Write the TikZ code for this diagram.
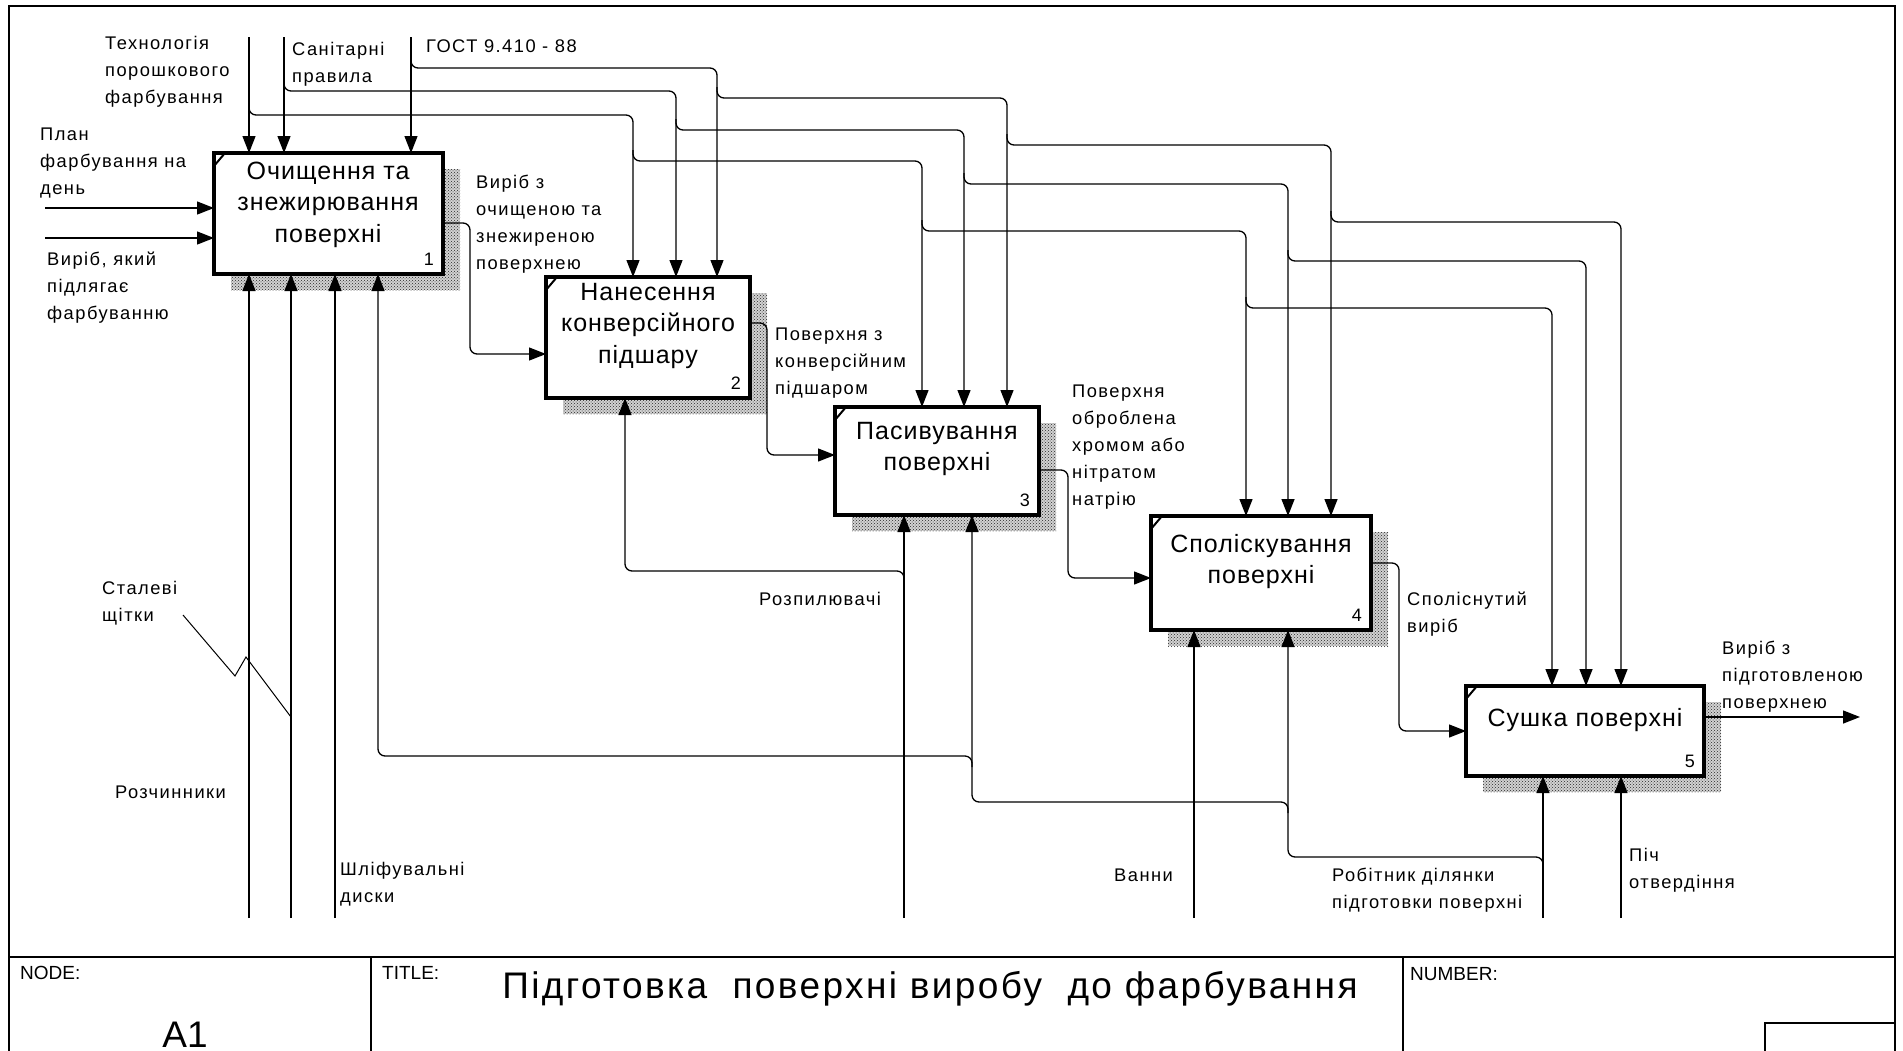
\documentclass[tikz,border=0pt]{standalone}
\usepackage{fontspec}
\setmainfont{Liberation Sans}
\newfontfamily\labf[LetterSpace=8]{Liberation Sans}
\newfontfamily\boxf[LetterSpace=4]{Liberation Sans}
\newfontfamily\ttlf[LetterSpace=6.5]{Liberation Sans}
\usetikzlibrary{arrows.meta,patterns,calc}
\pgfdeclarelayer{bg}
\pgfsetlayers{bg,main}
\newcommand{\ml}[1]{\begin{tabular}[t]{@{}l@{}}#1\end{tabular}}
\newcommand{\mc}[1]{\begin{tabular}[t]{@{}c@{}}#1\end{tabular}}
\tikzset{
  arr/.style={line width=1.3pt,-{Triangle[length=17pt,width=13pt]}},
  ln/.style={line width=1.3pt},
  rc/.style={rounded corners=7pt},
  box/.style={draw,line width=3.3pt,fill=white,anchor=north west,inner sep=0pt,outer sep=0pt},
  lab/.style={anchor=base west,inner sep=0pt,font=\fontsize{18.3}{27}\selectfont\labf},
  btxt/.style={anchor=base,inner sep=0pt,font=\fontsize{25}{31.5}\selectfont\boxf},
  num/.style={anchor=base east,inner sep=0pt,font=\fontsize{18}{20}\selectfont},
  frm/.style={line width=2pt},
  hdr/.style={anchor=base west,inner sep=0pt,font=\fontsize{19}{22}\selectfont}
}
\begin{document}
\begin{tikzpicture}[x=1pt,y=-1pt]
\useasboundingbox (0,0) rectangle (1903,1050);
% frame
\draw[frm] (9,1052) -- (9,6) -- (1895,6) -- (1895,1052);
\draw[frm] (9,957) -- (1895,957);
\draw[frm] (371,957) -- (371,1052);
\draw[frm] (1403,957) -- (1403,1052);
\draw[frm] (1765,1052) -- (1765,1023) -- (1895,1023);
\node[hdr] (hnode) at (20,979) {NODE:};
\node[hdr] (htitle) at (382,979) {TITLE:};
\node[hdr] (hnum) at (1410,980) {NUMBER:};
\node[anchor=base,inner sep=0pt,font=\fontsize{37}{40}\selectfont] (a1) at (185,1047) {A1};
\node[anchor=base,inner sep=0pt,font=\fontsize{37}{40}\selectfont\ttlf] (ttl) at (930,998) {Підготовка\ \ поверхні виробу\ \ до фарбування};

% boxes
\node[box,minimum width=229pt,minimum height=121pt] (b1) at (214,153) {};
\node[box,minimum width=204pt,minimum height=121pt] (b2) at (546,277) {};
\node[box,minimum width=204pt,minimum height=108pt] (b3) at (835,407) {};
\node[box,minimum width=220pt,minimum height=114pt] (b4) at (1151,516) {};
\node[box,minimum width=238pt,minimum height=90pt] (b5) at (1466,686) {};
\begin{pgfonlayer}{bg}
\foreach \b in {b1,b2,b3,b4,b5}{
  \fill[gray!35] ($(\b.north west)+(17,16)$) rectangle ($(\b.south east)+(17,16)$);
  \fill[pattern=crosshatch dots,pattern color=black!85] ($(\b.north west)+(17,16)$) rectangle ($(\b.south east)+(17,16)$);
}
\end{pgfonlayer}
\foreach \b/\n in {b1/1,b2/2,b3/3,b4/4,b5/5}{
  \draw[line width=2pt] ($(\b.north west)+(0,13)$) -- ($(\b.north west)+(11,0)$);
  \node[num] (n\n) at ($(\b.south east)+(-9,-9)$) {\n};
}
\node[btxt] (t1) at (328,179) {\mc{Очищення та\\знежирювання\\поверхні}};
\node[btxt] (t2) at (648,300) {\mc{Нанесення\\конверсійного\\підшару}};
\node[btxt] (t3) at (937,439) {\mc{Пасивування\\поверхні}};
\node[btxt] (t4) at (1261,552) {\mc{Споліскування\\поверхні}};
\node[btxt] (t5) at (1585,726) {Сушка поверхні};

% controls
\coordinate (cT) at (249,37);
\coordinate (cS) at (284,37);
\coordinate (cG) at (411,37);
\draw[arr] (cT) -- (cT |- b1.north);
\draw[arr] (cS) -- (cS |- b1.north);
\draw[arr] (cG) -- (cG |- b1.north);
% technology branches
\draw[arr,rc] (249,104) -- (249,115) -- (633,115) -- (b2.north -| 633,0);
\draw[arr,rc] (633,150) -- (633,161) -- (922,161) -- (b3.north -| 922,0);
\draw[arr,rc] (922,220) -- (922,231) -- (1246,231) -- (b4.north -| 1246,0);
\draw[arr,rc] (1246,297) -- (1246,308) -- (1552,308) -- (b5.north -| 1552,0);
% sanitary branches
\draw[arr,rc] (284,80) -- (284,91) -- (676,91) -- (b2.north -| 676,0);
\draw[arr,rc] (676,119) -- (676,130) -- (964,130) -- (b3.north -| 964,0);
\draw[arr,rc] (964,173) -- (964,184) -- (1288,184) -- (b4.north -| 1288,0);
\draw[arr,rc] (1288,250) -- (1288,261) -- (1586,261) -- (b5.north -| 1586,0);
% GOST branches
\draw[arr,rc] (411,57) -- (411,68) -- (717,68) -- (b2.north -| 717,0);
\draw[arr,rc] (717,87) -- (717,98) -- (1007,98) -- (b3.north -| 1007,0);
\draw[arr,rc] (1007,134) -- (1007,145) -- (1331,145) -- (b4.north -| 1331,0);
\draw[arr,rc] (1331,211) -- (1331,222) -- (1621,222) -- (b5.north -| 1621,0);

% inputs
\coordinate (iPlan) at (45,208);
\coordinate (iVir) at (45,238);
\draw[arr] (iPlan) -- (iPlan -| b1.west);
\draw[arr] (iVir) -- (iVir -| b1.west);
% flows between boxes
\draw[arr,rc] (b1.east |- 0,223) -- (470,223) -- (470,354) -- (b2.west |- 0,354);
\draw[arr,rc] (b2.east |- 0,323) -- (767,323) -- (767,455) -- (b3.west |- 0,455);
\draw[arr,rc] (b3.east |- 0,470) -- (1068,470) -- (1068,578) -- (b4.west |- 0,578);
\draw[arr,rc] (b4.east |- 0,563) -- (1399,563) -- (1399,731) -- (b5.west |- 0,731);
\coordinate (oEnd) at (1860,717);
\draw[arr] (b5.east |- oEnd) -- (oEnd);

% mechanisms
\coordinate (mR) at (249,918);
\coordinate (mS) at (291,918);
\coordinate (mD) at (335,918);
\coordinate (mP) at (904,918);
\coordinate (mV) at (1194,918);
\coordinate (mW) at (1543,918);
\coordinate (mO) at (1621,918);
\draw[arr] (mR) -- (mR |- b1.south);
\draw[arr] (mS) -- (mS |- b1.south);
\draw[arr] (mD) -- (mD |- b1.south);
\draw[arr] (mP) -- (mP |- b3.south);
\draw[arr] (mV) -- (mV |- b4.south);
\draw[arr] (mW) -- (mW |- b5.south);
\draw[arr] (mO) -- (mO |- b5.south);
\draw[arr,rc] (904,582) -- (904,571) -- (625,571) -- (b2.south -| 625,0);
\draw[arr,rc] (1543,868) -- (1543,857) -- (1288,857) -- (b4.south -| 1288,0);
\draw[arr,rc] (1288,813) -- (1288,802) -- (972,802) -- (b3.south -| 972,0);
\draw[arr,rc] (972,767) -- (972,756) -- (378,756) -- (b1.south -| 378,0);
% squiggle
\coordinate (sq) at (183,615);
\draw[line width=1pt] (sq) -- (235,676) -- (246,657) -- (mS |- 0,717);

% labels
\node[lab] (lT) at (105,49) {\ml{Технологія\\порошкового\\фарбування}};
\node[lab] (lS) at (292,55) {\ml{Санітарні\\правила}};
\node[lab] (lG) at (426,52) {ГОСТ 9.410 - 88};
\node[lab] (lP) at (40,140) {\ml{План\\фарбування на\\день}};
\node[lab] (lV) at (47,265) {\ml{Виріб, який\\підлягає\\фарбуванню}};
\node[lab] (l12) at (476,188) {\ml{Виріб з\\очищеною та\\знежиреною\\поверхнею}};
\node[lab] (l23) at (775,340) {\ml{Поверхня з\\конверсійним\\підшаром}};
\node[lab] (l34) at (1072,397) {\ml{Поверхня\\оброблена\\хромом або\\нітратом\\натрію}};
\node[lab] (l45) at (1407,605) {\ml{Споліснутий\\виріб}};
\node[lab] (lout) at (1722,654) {\ml{Виріб з\\підготовленою\\поверхнею}};
\node[lab] (lSt) at (102,594) {\ml{Сталеві\\щітки}};
\node[lab] (lRo) at (115,798) {Розчинники};
\node[lab] (lSh) at (340,875) {\ml{Шліфувальні\\диски}};
\node[lab] (lRp) at (759,605) {Розпилювачі};
\node[lab] (lVa) at (1114,881) {Ванни};
\node[lab] (lRb) at (1332,881) {\ml{Робітник ділянки\\підготовки поверхні}};
\node[lab] (lPi) at (1629,861) {\ml{Піч\\отвердіння}};
\end{tikzpicture}
\end{document}
